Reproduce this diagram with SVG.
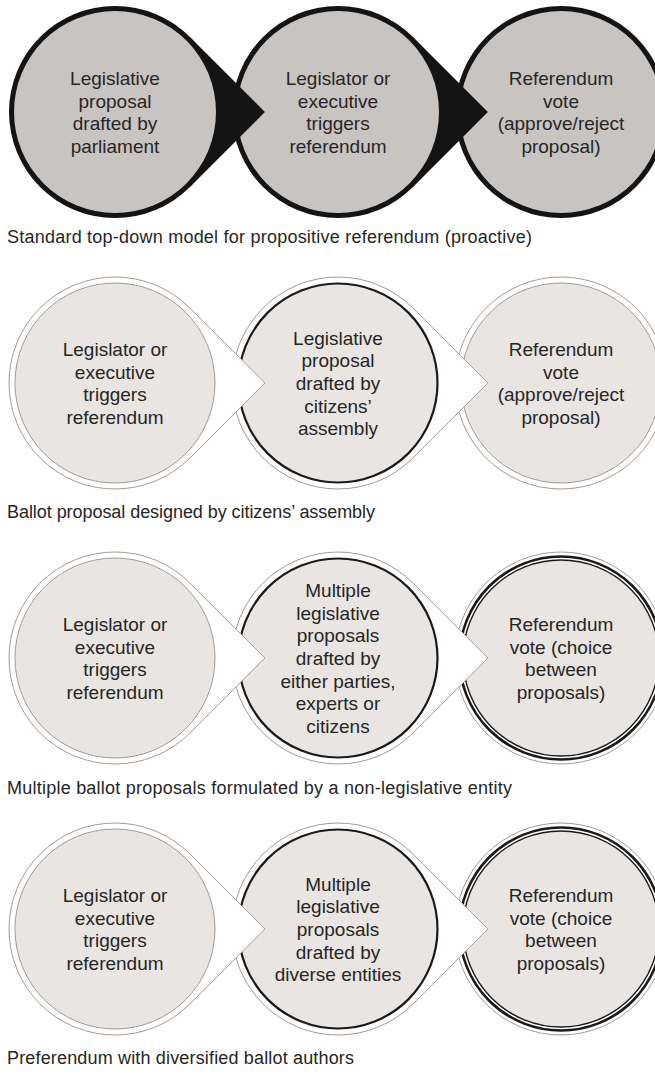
<svg xmlns="http://www.w3.org/2000/svg" width="655" height="1075" viewBox="0 0 655 1075">
<style>
.ring1{fill:#141414}
.fill1{fill:#c8c4c1}
.outer{fill:#ffffff;stroke:#a39c96;stroke-width:1}
.inner{fill:#e9e5e2;stroke:#a39c96;stroke-width:1}
.innerB{fill:#e9e5e2;stroke:#1a1a1a;stroke-width:2.2}
.thick{fill:none;stroke:#1a1a1a;stroke-width:2.6}
.thin{fill:#e9e5e2;stroke:#1a1a1a;stroke-width:1.4}
.tailB{fill:#141414}
.tailW{fill:#ffffff}
.tailLine{fill:none;stroke:#a39c96;stroke-width:1;stroke-linejoin:miter}
.t{font-family:"Liberation Sans",Arial,sans-serif;font-size:19px;fill:#262626;text-anchor:middle}
.cap{font-family:"Liberation Sans",Arial,sans-serif;font-size:18px;fill:#262626}
</style>
<rect width="655" height="1075" fill="#ffffff"/>

<!-- Row 1 -->
<g id="r1n3">
<circle class="ring1" cx="561" cy="112" r="106"/>
<circle class="fill1" cx="561" cy="112" r="101"/>
<text class="t" x="561" y="85"><tspan x="561">Referendum</tspan><tspan x="561" dy="22.7">vote</tspan><tspan x="561" dy="22.7">(approve/reject</tspan><tspan x="561" dy="22.7">proposal)</tspan></text>
</g>
<g id="r1n2">
<circle class="ring1" cx="338" cy="112" r="106"/>
<circle class="fill1" cx="338" cy="112" r="101"/>
<text class="t" x="338" y="85"><tspan x="338">Legislator or</tspan><tspan x="338" dy="22.7">executive</tspan><tspan x="338" dy="22.7">triggers</tspan><tspan x="338" dy="22.7">referendum</tspan></text>
</g>
<g id="r1n1">
<circle class="ring1" cx="115" cy="112" r="106"/>
<circle class="fill1" cx="115" cy="112" r="101"/>
<text class="t" x="115" y="85"><tspan x="115">Legislative</tspan><tspan x="115" dy="22.7">proposal</tspan><tspan x="115" dy="22.7">drafted by</tspan><tspan x="115" dy="22.7">parliament</tspan></text>
</g>
<text id="cap1" class="cap" x="7" y="243" textLength="525" lengthAdjust="spacing">Standard top-down model for propositive referendum (proactive)</text>

<!-- Row 2 -->
<g id="r2n3">
<circle class="outer" cx="561" cy="383" r="106"/>
<circle class="inner" cx="561" cy="383" r="100"/>
<text class="t" x="561" y="356"><tspan x="561">Referendum</tspan><tspan x="561" dy="22.7">vote</tspan><tspan x="561" dy="22.7">(approve/reject</tspan><tspan x="561" dy="22.7">proposal)</tspan></text>
</g>
<g id="r2n2">
<circle class="outer" cx="338" cy="383" r="106"/>
<circle class="innerB" cx="338" cy="383" r="99.5"/>
<text class="t" x="338" y="344.6"><tspan x="338">Legislative</tspan><tspan x="338" dy="22.7">proposal</tspan><tspan x="338" dy="22.7">drafted by</tspan><tspan x="338" dy="22.7">citizens’</tspan><tspan x="338" dy="22.7">assembly</tspan></text>
</g>
<g id="r2n1">
<circle class="outer" cx="115" cy="383" r="106"/>
<circle class="inner" cx="115" cy="383" r="100"/>
<text class="t" x="115" y="356"><tspan x="115">Legislator or</tspan><tspan x="115" dy="22.7">executive</tspan><tspan x="115" dy="22.7">triggers</tspan><tspan x="115" dy="22.7">referendum</tspan></text>
</g>
<text id="cap2" class="cap" x="7" y="518" textLength="368" lengthAdjust="spacing">Ballot proposal designed by citizens’ assembly</text>

<!-- Row 3 -->
<g id="r3n3">
<circle class="outer" cx="561" cy="658" r="106"/>
<circle class="thick" cx="561" cy="658" r="101.5"/>
<circle class="thin" cx="561" cy="658" r="98"/>
<text class="t" x="561" y="631"><tspan x="561">Referendum</tspan><tspan x="561" dy="22.7">vote (choice</tspan><tspan x="561" dy="22.7">between</tspan><tspan x="561" dy="22.7">proposals)</tspan></text>
</g>
<g id="r3n2">
<circle class="outer" cx="338" cy="658" r="106"/>
<circle class="innerB" cx="338" cy="658" r="99.5"/>
<text class="t" x="338" y="596.9"><tspan x="338">Multiple</tspan><tspan x="338" dy="22.7">legislative</tspan><tspan x="338" dy="22.7">proposals</tspan><tspan x="338" dy="22.7">drafted by</tspan><tspan x="338" dy="22.7">either parties,</tspan><tspan x="338" dy="22.7">experts or</tspan><tspan x="338" dy="22.7">citizens</tspan></text>
</g>
<g id="r3n1">
<circle class="outer" cx="115" cy="658" r="106"/>
<circle class="inner" cx="115" cy="658" r="100"/>
<text class="t" x="115" y="631"><tspan x="115">Legislator or</tspan><tspan x="115" dy="22.7">executive</tspan><tspan x="115" dy="22.7">triggers</tspan><tspan x="115" dy="22.7">referendum</tspan></text>
</g>
<text id="cap3" class="cap" x="7" y="794" textLength="505" lengthAdjust="spacing">Multiple ballot proposals formulated by a non-legislative entity</text>

<!-- Row 4 -->
<g id="r4n3">
<circle class="outer" cx="561" cy="929" r="106"/>
<circle class="thick" cx="561" cy="929" r="101.5"/>
<circle class="thin" cx="561" cy="929" r="98"/>
<text class="t" x="561" y="902"><tspan x="561">Referendum</tspan><tspan x="561" dy="22.7">vote (choice</tspan><tspan x="561" dy="22.7">between</tspan><tspan x="561" dy="22.7">proposals)</tspan></text>
</g>
<g id="r4n2">
<circle class="outer" cx="338" cy="929" r="106"/>
<circle class="innerB" cx="338" cy="929" r="99.5"/>
<text class="t" x="338" y="890.6"><tspan x="338">Multiple</tspan><tspan x="338" dy="22.7">legislative</tspan><tspan x="338" dy="22.7">proposals</tspan><tspan x="338" dy="22.7">drafted by</tspan><tspan x="338" dy="22.7">diverse entities</tspan></text>
</g>
<g id="r4n1">
<circle class="outer" cx="115" cy="929" r="106"/>
<circle class="inner" cx="115" cy="929" r="100"/>
<text class="t" x="115" y="902"><tspan x="115">Legislator or</tspan><tspan x="115" dy="22.7">executive</tspan><tspan x="115" dy="22.7">triggers</tspan><tspan x="115" dy="22.7">referendum</tspan></text>
</g>
<text id="cap4" class="cap" x="7" y="1064" textLength="347" lengthAdjust="spacing">Preferendum with diversified ballot authors</text>

<!-- Connectors: pointed tails of the circles -->
<g id="connectors">
<path class="tailB" d="M189.95,37.05 L264.9,112 L189.95,186.95 L187.83,184.83 A103,103 0 0 0 187.83,39.17 Z"/>
<path class="tailB" d="M412.95,37.05 L487.9,112 L412.95,186.95 L410.83,184.83 A103,103 0 0 0 410.83,39.17 Z"/>

<path class="tailW" d="M189.95,308.05 L264.9,383 L189.95,457.95 L189.25,457.25 A105,105 0 0 0 189.25,308.75 Z"/>
<polyline class="tailLine" points="189.95,308.05 264.9,383 189.95,457.95"/>
<path class="tailW" d="M412.95,308.05 L487.9,383 L412.95,457.95 L412.25,457.25 A105,105 0 0 0 412.25,308.75 Z"/>
<polyline class="tailLine" points="412.95,308.05 487.9,383 412.95,457.95"/>

<path class="tailW" d="M189.95,583.05 L264.9,658 L189.95,732.95 L189.25,732.25 A105,105 0 0 0 189.25,583.75 Z"/>
<polyline class="tailLine" points="189.95,583.05 264.9,658 189.95,732.95"/>
<path class="tailW" d="M412.95,583.05 L487.9,658 L412.95,732.95 L412.25,732.25 A105,105 0 0 0 412.25,583.75 Z"/>
<polyline class="tailLine" points="412.95,583.05 487.9,658 412.95,732.95"/>

<path class="tailW" d="M189.95,854.05 L264.9,929 L189.95,1003.95 L189.25,1003.25 A105,105 0 0 0 189.25,854.75 Z"/>
<polyline class="tailLine" points="189.95,854.05 264.9,929 189.95,1003.95"/>
<path class="tailW" d="M412.95,854.05 L487.9,929 L412.95,1003.95 L412.25,1003.25 A105,105 0 0 0 412.25,854.75 Z"/>
<polyline class="tailLine" points="412.95,854.05 487.9,929 412.95,1003.95"/>
</g>
</svg>
